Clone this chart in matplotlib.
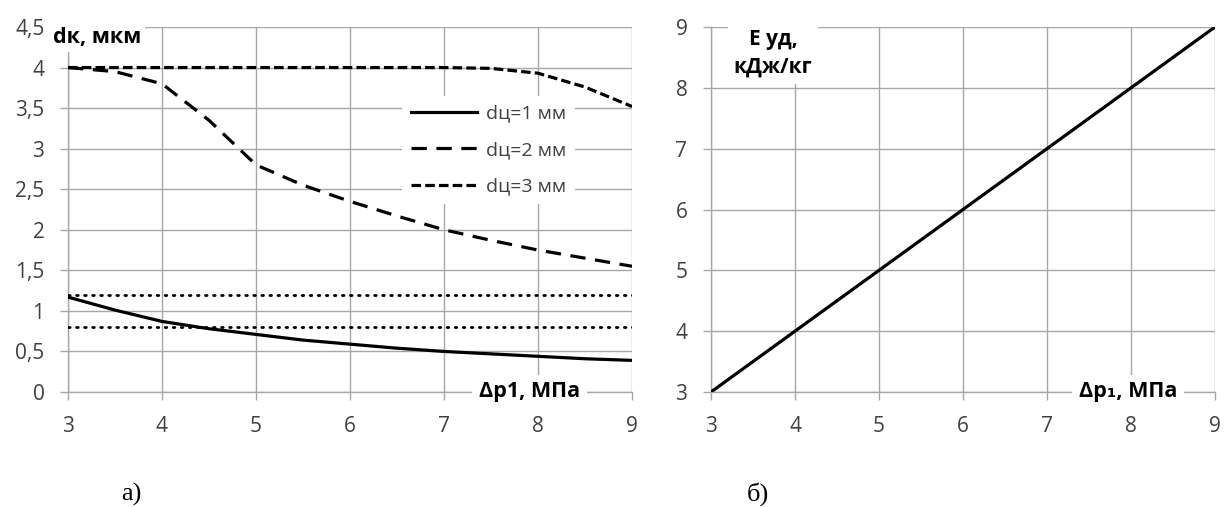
import matplotlib
matplotlib.use("Agg")
import matplotlib.pyplot as plt
from matplotlib.lines import Line2D

plt.rcParams['font.family'] = ['Open Sans', 'DejaVu Sans']

# ---- data (left chart) ----
x1 = [3, 3.5, 4, 4.5, 5, 5.5, 6, 6.5, 7, 7.5, 8, 8.5, 9]
d1 = [1.17, 1.01, 0.87, 0.78, 0.71, 0.64, 0.59, 0.54, 0.50, 0.47, 0.44, 0.41, 0.39]
x2 = [3, 3.5, 4, 4.5, 5, 5.5, 6, 6.5, 7, 7.5, 8, 8.5, 9]
d2 = [4.0, 3.95, 3.8, 3.35, 2.8, 2.55, 2.35, 2.17, 2.0, 1.87, 1.75, 1.65, 1.55]
x3 = [3, 4, 5, 6, 7, 7.5, 8, 8.5, 9]
d3 = [4.0, 4.0, 4.0, 4.0, 4.0, 3.99, 3.93, 3.76, 3.52]
limits = [1.2, 0.8]
legend_labels = ['dц=1 мм', 'dц=2 мм', 'dц=3 мм']

# ---- data (right chart) ----
xe = [3, 9]
ye = [3, 9]

W, H = 1225, 507
fig = plt.figure(figsize=(W / 100, H / 100), dpi=100)

grid_c = '#a6a6a6'
txt_c = '#404040'
LW = 2.3
DASH2 = (4.8, 3.0)
DASH3 = (3.0, 1.3)

def px_axes(x0, x1_, ytop, ybot):
    return fig.add_axes([x0 / W, 1 - ybot / H, (x1_ - x0) / W, (ybot - ytop) / H])

def style(ax):
    for s in ['top', 'right']:
        ax.spines[s].set_visible(False)
    for s in ['left', 'bottom']:
        ax.spines[s].set_color(grid_c)
        ax.spines[s].set_linewidth(1.0)
    ax.grid(True, color=grid_c, linewidth=1.0)
    ax.set_axisbelow(True)
    ax.tick_params(colors=grid_c, labelcolor=txt_c, labelsize=15, length=6, width=1.0,
                   direction='out')
    ax.tick_params(axis='x', pad=11)
    ax.tick_params(axis='y', pad=11)

# ---- left ----
axL = px_axes(68, 632, 27, 392)
style(axL)
axL.set_xlim(3, 9)
axL.set_ylim(0, 4.5)
axL.set_xticks(range(3, 10))
yt = [0, 0.5, 1, 1.5, 2, 2.5, 3, 3.5, 4, 4.5]
axL.set_yticks(yt)
axL.set_yticklabels([('%g' % v).replace('.', ',') for v in yt])

axL.plot(x1, d1, color='black', lw=LW, solid_capstyle='butt', zorder=3)
axL.plot(x2, d2, color='black', lw=LW, dashes=DASH2, zorder=3)
axL.plot(x3, d3, color='black', lw=LW, dashes=DASH3, zorder=3)
for v in limits:
    axL.axhline(v, color='black', lw=2.0, dashes=(0.6, 2.3), dash_capstyle='round', zorder=3)

handles = [Line2D([], [], color='black', lw=LW),
           Line2D([], [], color='black', lw=LW, dashes=DASH2),
           Line2D([], [], color='black', lw=LW, dashes=DASH3)]
leg = axL.legend(handles, legend_labels, loc='upper left',
                 bbox_to_anchor=((402 - 68) / 564, 1 - (96 - 27) / 365),
                 frameon=True, fancybox=False, framealpha=1, edgecolor='none',
                 fontsize=14, handlelength=3.4, handletextpad=0.45, labelspacing=0.95,
                 borderpad=0.45, borderaxespad=0)
for t in leg.get_texts():
    t.set_color(txt_c)

axL.text(-0.027, 1.0, 'dк, мкм', transform=axL.transAxes, fontsize=15.5, fontweight='bold',
         color='black', ha='left', va='top', zorder=5, clip_on=False,
         bbox=dict(facecolor='white', edgecolor='none', pad=3))
axL.text(0.728, 0.0, 'Δp1, МПа', transform=axL.transAxes, fontsize=15.5, fontweight='bold',
         color='black', ha='left', va='center', zorder=5, clip_on=False,
         bbox=dict(facecolor='white', edgecolor='none', pad=5))

# ---- right ----
axR = px_axes(711, 1215, 27, 392)
style(axR)
axR.set_xlim(3, 9)
axR.set_ylim(3, 9)
axR.set_xticks(range(3, 10))
axR.set_yticks(range(3, 10))
axR.plot(xe, ye, color='black', lw=LW, zorder=3)

axR.text(0.123, 0.995, 'E уд,\nкДж/кг', transform=axR.transAxes, fontsize=15,
         fontweight='bold', color='black', ha='center', va='top', zorder=5,
         linespacing=1.45, clip_on=False,
         bbox=dict(facecolor='white', edgecolor='none', pad=4))
axR.text(0.73, 0.0, 'Δp₁, МПа', transform=axR.transAxes, fontsize=15.5, fontweight='bold',
         color='black', ha='left', va='center', zorder=5, clip_on=False,
         bbox=dict(facecolor='white', edgecolor='none', pad=5))

# ---- captions ----
fig.text(131 / W, 1 - 494 / H, 'а)', fontsize=19, family=['Liberation Serif', 'DejaVu Serif'],
         ha='center', va='center')
fig.text(758 / W, 1 - 494 / H, 'б)', fontsize=19, family=['Liberation Serif', 'DejaVu Serif'],
         ha='center', va='center')

fig.savefig('out.png', dpi=100)
